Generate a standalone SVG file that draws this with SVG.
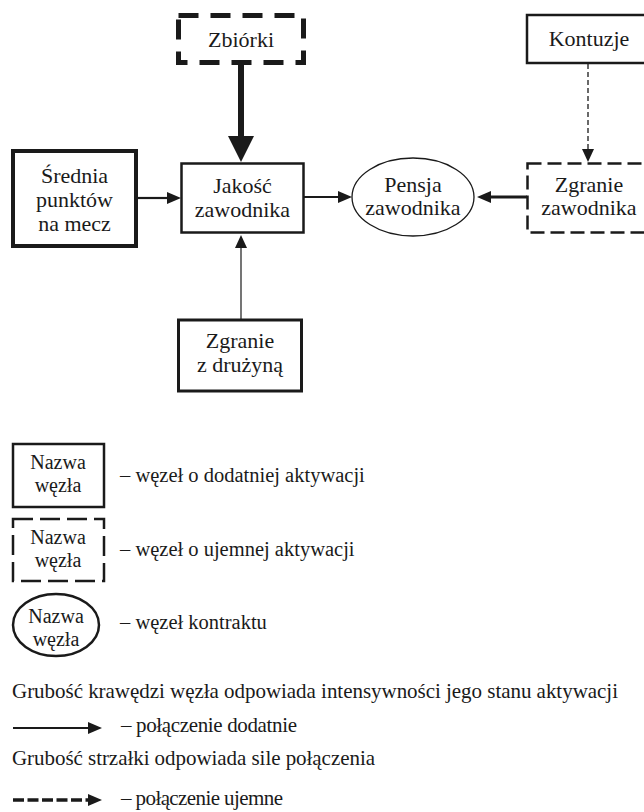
<svg xmlns="http://www.w3.org/2000/svg" width="644" height="812" viewBox="0 0 644 812">
<style>
  text { font-family: "Liberation Serif", "Times New Roman", serif; fill: #1a1a1a; }
  .n { font-size: 22px; text-anchor: middle; }
  .l { font-size: 20px; text-anchor: middle; }
  .d { font-size: 20.5px; }
  .b { font-size: 21px; }
  .box { fill: #fff; stroke: #1a1a1a; }
  .ln { fill: none; stroke: #1a1a1a; }
</style>
<defs>
  <marker id="ah" markerUnits="userSpaceOnUse" markerWidth="14" markerHeight="12" refX="0" refY="6" orient="auto" overflow="visible">
    <path d="M0,0 L14,6 L0,12 z" fill="#1a1a1a"/>
  </marker>
  <marker id="ahBig" markerUnits="userSpaceOnUse" markerWidth="26" markerHeight="26" refX="0" refY="13" orient="auto" overflow="visible">
    <path d="M0,0 L26,13 L0,26 z" fill="#1a1a1a"/>
  </marker>
  <marker id="ahSm" markerUnits="userSpaceOnUse" markerWidth="13" markerHeight="12" refX="0" refY="6" orient="auto" overflow="visible">
    <path d="M0,0 L13,6 L0,12 z" fill="#1a1a1a"/>
  </marker>
</defs>

<g id="connectors">
  <line class="ln" x1="137" y1="198" x2="167" y2="198" stroke-width="2.2" marker-end="url(#ah)"/>
  <line class="ln" x1="304" y1="197" x2="338" y2="197" stroke-width="2.2" marker-end="url(#ah)"/>
  <line class="ln" x1="527" y1="197" x2="491" y2="197" stroke-width="3" marker-end="url(#ah)"/>
  <line class="ln" x1="241" y1="64" x2="241" y2="136" stroke-width="6" marker-end="url(#ahBig)"/>
  <line class="ln" x1="241" y1="319" x2="241" y2="248" stroke-width="1.2" marker-end="url(#ahSm)"/>
  <line class="ln" x1="588" y1="64" x2="588" y2="149" stroke-width="1.3" stroke-dasharray="5 3" marker-end="url(#ahSm)"/>
</g>

<g id="zbiorki">
  <rect class="box" x="178.5" y="15.5" width="125" height="47" stroke-width="5" stroke-dasharray="20 12"/>
  <text class="n" x="241" y="47">Zbiórki</text>
</g>
<g id="kontuzje">
  <rect class="box" x="527" y="15" width="124" height="48" stroke-width="2.5"/>
  <text class="n" x="589" y="46">Kontuzje</text>
</g>
<g id="srednia">
  <rect class="box" x="13" y="151" width="123" height="95" stroke-width="4"/>
  <text class="n" x="74.5" y="183">Średnia</text>
  <text class="n" x="74.5" y="207">punktów</text>
  <text class="n" x="74.5" y="231">na mecz</text>
</g>
<g id="jakosc">
  <rect class="box" x="181.5" y="163.5" width="122" height="69" stroke-width="2.5"/>
  <text class="n" x="242.5" y="193">Jakość</text>
  <text class="n" x="242.5" y="217">zawodnika</text>
</g>
<g id="pensja">
  <ellipse class="box" cx="413" cy="197" rx="61" ry="39" stroke-width="1.3"/>
  <text class="n" x="413" y="192">Pensja</text>
  <text class="n" x="413" y="215">zawodnika</text>
</g>
<g id="zgranie-zawodnika">
  <rect class="box" x="527.5" y="163.5" width="124" height="69" stroke-width="2.5" stroke-dasharray="14 6"/>
  <text class="n" x="589" y="192">Zgranie</text>
  <text class="n" x="589" y="215">zawodnika</text>
</g>
<g id="zgranie-druzyna">
  <rect class="box" x="178.5" y="320" width="123" height="71" stroke-width="3"/>
  <text class="n" x="240" y="348">Zgranie</text>
  <text class="n" x="240" y="372">z drużyną</text>
</g>

<g id="legend-positive">
  <rect class="box" x="13" y="444" width="91" height="63" stroke-width="2.5"/>
  <text class="l" x="58" y="469">Nazwa</text>
  <text class="l" x="58" y="492">węzła</text>
  <text class="d" x="120" y="482">– węzeł o dodatniej aktywacji</text>
</g>
<g id="legend-negative">
  <rect class="box" x="13" y="519" width="91" height="62" stroke-width="2.5" stroke-dasharray="20 7"/>
  <text class="l" x="58" y="544">Nazwa</text>
  <text class="l" x="58" y="567">węzła</text>
  <text class="d" x="120" y="556">– węzeł o ujemnej aktywacji</text>
</g>
<g id="legend-contract">
  <ellipse class="box" cx="56" cy="625" rx="43" ry="31" stroke-width="2.5"/>
  <text class="l" x="56" y="623">Nazwa</text>
  <text class="l" x="56" y="646">węzła</text>
  <text class="d" x="120" y="629">– węzeł kontraktu</text>
</g>

<g id="legend-notes">
  <text class="b" x="12" y="698" textLength="606">Grubość krawędzi węzła odpowiada intensywności jego stanu aktywacji</text>
  <line class="ln" x1="13" y1="728" x2="88" y2="728" stroke-width="2.2" marker-end="url(#ah)"/>
  <text class="b" x="121" y="732" textLength="176">– połączenie dodatnie</text>
  <text class="b" x="12" y="765" textLength="363">Grubość strzałki odpowiada sile połączenia</text>
  <line class="ln" x1="13" y1="800" x2="88" y2="800" stroke-width="3.5" stroke-dasharray="11 3.5" marker-end="url(#ah)"/>
  <text class="b" x="121" y="805" textLength="162">– połączenie ujemne</text>
</g>
</svg>
